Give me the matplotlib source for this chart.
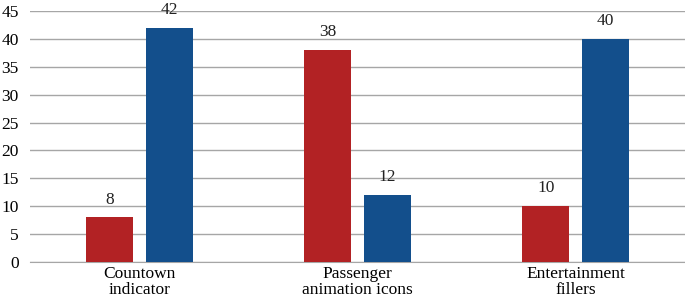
import numpy as np
from matplotlib import pyplot as plt

categories = ['Countown\nindicator', 'Passenger\nanimation icons', 'Entertainment\nfillers']
red_vals = [8, 38, 10]
blue_vals = [42, 12, 40]
yticks = [0, 5, 10, 15, 20, 25, 30, 35, 40, 45]

plt.rcParams['font.family'] = ['Liberation Serif', 'DejaVu Serif']

fig = plt.figure(figsize=(6.85, 2.99), dpi=100)
ax = fig.add_axes([30/685, 37/299, 655/685, 251/299])

x = np.arange(len(categories))
w = 0.215
off = 0.137
b1 = ax.bar(x - off, red_vals, w, color='#b22224', zorder=3)
b2 = ax.bar(x + off, blue_vals, w, color='#134f8c', zorder=3)

for bars, vals in ((b1, red_vals), (b2, blue_vals)):
    for b, v in zip(bars, vals):
        ax.annotate(str(v), (b.get_x() + b.get_width()/2, v), xytext=(0, 7),
                    textcoords='offset points', ha='center', va='bottom',
                    fontsize=12.5, color='#222222', annotation_clip=False)

ax.set_xlim(-0.5, 2.5)
ax.set_ylim(0, 45)
ax.set_yticks(yticks)
ax.set_xticks(x)
ax.set_xticklabels(categories, fontsize=12.5, linespacing=0.95)
ax.tick_params(axis='y', length=0, pad=8, labelsize=12.5)
ax.tick_params(axis='x', length=0, pad=3)
ax.grid(axis='y', color='#a6a6a6', linewidth=1, zorder=0)
for s in ['left', 'right', 'top']:
    ax.spines[s].set_visible(False)
ax.spines['bottom'].set_color('#a6a6a6')

fig.savefig('out.png', dpi=100)
